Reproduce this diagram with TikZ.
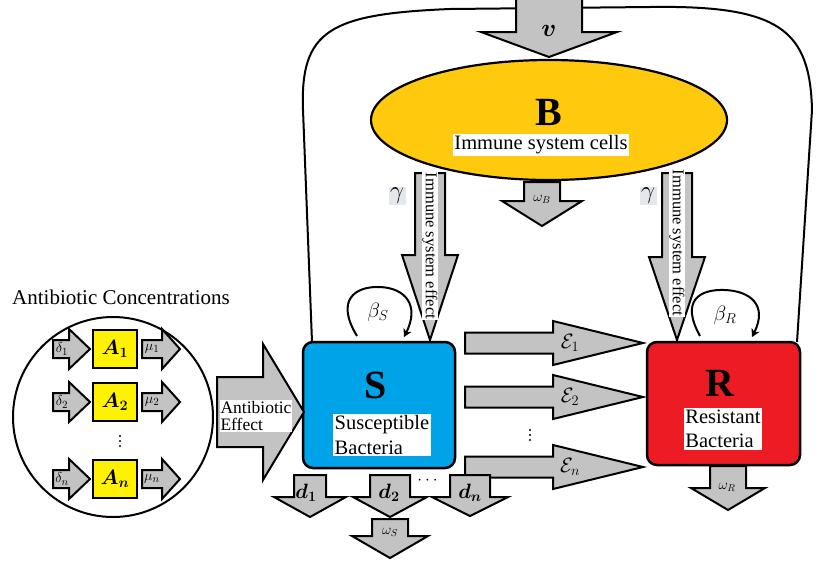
\documentclass[tikz,border=0pt]{standalone}
\usepackage{amsmath,bm}
\usepackage{fontspec}
\setmainfont{Liberation Serif}
\usetikzlibrary{arrows.meta,shapes.geometric}
\definecolor{arrgray}{HTML}{C3C3C3}
\definecolor{bgold}{HTML}{FFC90E}
\definecolor{sblue}{HTML}{00A2E8}
\definecolor{rred}{HTML}{ED1C24}
\definecolor{gambg}{HTML}{E4E8EC}
\newcommand{\downblk}[6]{%
\draw[blk] ({#1-#3},#2) -- ({#1+#3},#2) -- ({#1+#3},#4) -- ({#1+#5},#4) -- (#1,#6) -- ({#1-#5},#4) -- ({#1-#3},#4) -- cycle;}
\newcommand{\rightblk}[6]{%
\draw[blk] (#2,{#1-#3}) -- (#4,{#1-#3}) -- (#4,{#1-#5}) -- (#6,#1) -- (#4,{#1+#5}) -- (#4,{#1+#3}) -- (#2,{#1+#3}) -- cycle;}
\newcommand{\vdotsat}[2]{%
\foreach \dd in {-5,0,5}{\fill ({#1},{#2+\dd}) circle (1.1pt);}}
\newcommand{\fs}[1]{\fontsize{#1}{#1}\selectfont}
\begin{document}
\begin{tikzpicture}[x=1pt,y=-1pt,
  blk/.style={draw=black,line width=2pt,fill=arrgray,line join=miter},
  lbl/.style={inner sep=0pt},
  wbox/.style={fill=white,inner sep=1.5pt,align=left},
  loopline/.style={line width=2pt,-{Stealth[length=8pt,width=9pt]}}]
\useasboundingbox (0,0) rectangle (821,563);

% outer feedback loop
\coordinate (loopS) at (312,342);
\coordinate (loopR) at (797,342);
\draw[line width=2pt] (loopS) -- (303,110) .. controls (300,30) and (330,14) .. (450,9) -- (650,7) .. controls (780,5) and (810,30) .. (812,110) -- (loopR);

% main compartments
\node[ellipse,draw,line width=2.2pt,fill=bgold,minimum width=356pt,minimum height=120pt] (B) at (549,120) {};
\node[draw,rounded corners=10pt,line width=2.5pt,fill=sblue,minimum width=152pt,minimum height=126pt] (S) at (379,405) {};
\node[draw,rounded corners=10pt,line width=2.5pt,fill=rred,minimum width=153pt,minimum height=123pt] (R) at (723.5,403.5) {};

\node[lbl] (Bt) at (549,112) {\fs{40}\bfseries B};
\node[wbox] (Btx) at (541,145) {\fs{20.5}Immune system cells};
\node[lbl] (St) at (376,385) {\fs{40}\bfseries S};
\node[wbox,font=\fs{20.5}] (Stx) at (382,435) {Susceptible\\[4pt]Bacteria};
\node[lbl] (Rt) at (720,383) {\fs{40}\bfseries R};
\node[wbox,font=\fs{20.5}] (Rtx) at (723,429) {Resistant\\[4pt]Bacteria};

% block arrows
\downblk{549}{-3}{33}{32}{68}{57}
\downblk{542}{182}{18}{201}{40}{226}
\downblk{430}{173}{15}{255}{28}{340}
\downblk{677}{173}{15}{257}{28}{340}
\rightblk{343}{465}{10.5}{553}{22}{643}
\rightblk{397}{465}{10.5}{553}{22}{643}
\rightblk{467}{465}{10.5}{553}{22}{643}
\downblk{310}{475}{16}{497}{36}{517}
\downblk{390}{475}{20}{497}{37}{517}
\downblk{470}{475}{20}{497}{38}{516}
\downblk{390}{519}{18}{536}{38}{558}
\downblk{728}{466}{18}{488}{37}{510}
\rightblk{412}{217}{35}{263}{68}{304}

% arrow labels
\node[lbl] (vl) at (549,31) {\fs{28}$\bm{v}$};
\node[lbl] (wB) at (542,199) {\fs{14}$\omega_B$};
\node[wbox,rotate=-90,inner sep=0.5pt] (ieS) at (430,246) {\fs{16.5}Immune system effect};
\node[wbox,rotate=-90,inner sep=0.5pt] (ieR) at (677,243) {\fs{16.5}Immune system effect};
\node[fill=gambg,inner sep=1.5pt] (gS) at (397,196) {\fs{26}$\gamma$};
\node[fill=gambg,inner sep=1.5pt] (gR) at (648,196) {\fs{26}$\gamma$};
\node[lbl] (e1) at (570,343) {\fs{20}$\mathcal{E}_1$};
\node[lbl] (e2) at (570,397) {\fs{20}$\mathcal{E}_2$};
\node[lbl] (en) at (570,467) {\fs{20}$\mathcal{E}_n$};
\vdotsat{530}{435}
\node[lbl] (d1) at (306,493) {\fs{20}$\bm{d_1}$};
\node[lbl] (d2) at (389,493) {\fs{20}$\bm{d_2}$};
\node[lbl] (dn) at (470,493) {\fs{20}$\bm{d_n}$};
\node[lbl] (ddots) at (429,481) {\fs{16}$\cdots$};
\node[lbl] (wS) at (390,532) {\fs{14}$\omega_S$};
\node[lbl] (wR) at (727,487) {\fs{14}$\omega_R$};

% growth loops
\coordinate (bSa) at (357,336);
\coordinate (bSb) at (404,337);
\draw[loopline] (bSa) .. controls (335,300) and (355,286) .. (380,287) .. controls (405,288) and (420,305) .. (bSb);
\node[lbl] (betaS) at (378,312) {\fs{20}$\beta_S$};
\coordinate (bRa) at (700,336);
\coordinate (bRb) at (752,337);
\draw[loopline] (bRa) .. controls (680,300) and (700,289) .. (725,290) .. controls (750,291) and (768,305) .. (bRb);
\node[lbl] (betaR) at (725,315) {\fs{20}$\beta_R$};

% antibiotic effect
\node[wbox,font=\fs{17.5},inner sep=1pt] (abe) at (256,416) {Antibiotic\\Effect};

% antibiotic concentrations
\node[lbl] (abc) at (121,297) {\fs{21}Antibiotic Concentrations};
\node[circle,draw,line width=2pt,minimum size=200pt] (circ) at (113,417) {};
\foreach \cy/\k in {349/1,402/2,479/n}{
  \rightblk{\cy}{53}{9}{69}{20}{90}
  \rightblk{\cy}{142}{9}{162}{20}{180}
  \node[draw,line width=2.5pt,fill=yellow,minimum width=44pt,minimum height=38pt] (A\k) at (115,\cy) {\fs{20}$\bm{A_\k}$};
  \node[lbl] (dl\k) at (62,\cy) {\fs{15}$\delta_\k$};
  \node[lbl] (ml\k) at (152,\cy) {\fs{15}$\mu_\k$};
}
\vdotsat{120}{441}
\end{tikzpicture}
\end{document}
